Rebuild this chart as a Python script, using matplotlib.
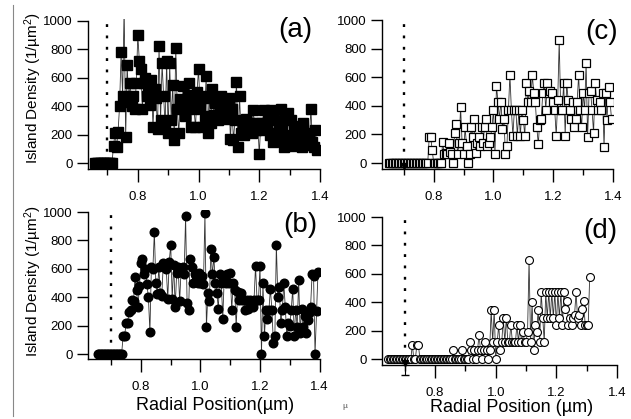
import numpy as np
import matplotlib
matplotlib.use("Agg")
import matplotlib.pyplot as plt
from matplotlib.lines import Line2D

plt.rcParams['font.family'] = ['Liberation Sans', 'DejaVu Sans']
plt.rcParams['mathtext.default'] = 'regular'

# ---------------- data ----------------
step = 0.005
cutoff = 0.70

a_x0 = 0.660
a_y = [0]*12 + [
    120, 210, 110, 220, 400, 780, 470, 1100, 180, 690, 430, 560, 400, 470, 380, 560,
    900, 720, 660, 380, 560, 600, 470, 540, 410, 580, 250, 520, 460, 240, 820, 300, 700, 470, 260, 720,
    210, 700, 300, 550, 160, 810, 380, 210, 450, 390, 540, 330, 400, 480, 560, 250, 430, 380, 250, 500,
    660, 400, 250, 470, 330, 610, 210, 460, 280, 520, 340, 420, 460, 300, 380, 470, 350, 420, 310, 400,
    460, 170, 380, 160, 300, 570, 110, 470, 210, 250, 200, 310, 230, 250, 280, 210, 370, 250, 230, 280,
    60, 280, 230, 370, 240, 280, 330, 200, 370, 150, 300, 210, 170, 280, 380, 230, 110, 310, 160, 350,
    200, 300, 120, 250, 180, 260, 140, 230, 110, 280, 170, 210, 130, 170, 380, 150, 110, 230, 90]

b_x0 = 0.655
b_y = [0]*17 + [
    125, 125, 215, 220, 295, 310, 380, 370, 540, 450, 330, 480,
    640, 670, 560, 600, 490, 400, 155, 610, 600, 860, 500, 420, 610, 430, 410, 640, 620, 600, 390, 650,
    770, 390, 630, 330, 570, 610, 370, 600, 610, 560, 970, 360, 310, 670, 610, 500, 560, 550, 500, 570,
    500, 550, 490, 990, 190, 430, 370, 740, 560, 680, 500, 430, 320, 560, 500, 250, 550, 500, 560, 500,
    570, 310, 500, 450, 190, 440, 380, 430, 380, 380, 310, 380, 320, 380, 360, 330, 380, 620, 380, 380,
    620, 0, 500, 130, 310, 250, 310, 460, 310, 80, 130, 770, 400, 470, 220, 310, 500, 330, 130, 220,
    200, 310, 460, 130, 310, 190, 520, 150, 320, 190, 270, 150, 240, 290, 330, 560, 550, 0, 300, 580]

c_x0 = 0.650
c_y = [0]*27 + [
    180, 180, 90, 0, 0, 0, 0, 0, 0, 150,
    60, 70, 60, 140, 80, 60, 0, 210, 270, 60,
    140, 390, 140, 60, 250, 120, 0, 60, 250, 180,
    310, 70, 140, 180, 120, 250, 140, 250, 310, 120,
    140, 180, 250, 370, 60, 540, 430, 310, 430, 240,
    310, 60, 120, 370, 615, 370, 190, 370, 370, 190,
    370, 190, 370, 300, 190, 560, 430, 500, 430, 615,
    490, 430, 250, 130, 300, 310, 490, 560, 370, 560,
    490, 500, 490, 430, 370, 190, 440, 860, 370, 370,
    560, 190, 560, 440, 370, 310, 430, 250, 310, 430,
    615, 370, 250, 490, 370, 700, 180, 490, 500, 370,
    210, 560, 440, 370, 430, 370, 490, 110, 490, 300,
    530, 430, 310]

d_x0 = 0.645
d_y = [0]*16 + [100, 0, 0, 100, 100] + [0]*22 + [
    60, 0, 0, 0, 0, 0, 60, 0, 0, 0,
    0, 120, 60, 0, 60, 0, 60, 170, 60, 0,
    60, 120, 60, 0, 60, 345, 120, 345, 0, 120,
    240, 60, 120, 290, 120, 290, 120, 120, 240, 120,
    120, 120, 240, 120, 240, 120, 190, 120, 120, 190,
    700, 120, 400, 60, 240, 190, 345, 120, 470, 290,
    120, 470, 290, 470, 290, 470, 290, 470, 240, 470,
    290, 470, 240, 470, 350, 410, 240, 290, 240, 290,
    310, 470, 290, 310, 240, 350, 410, 240, 240, 240, 580]

y_ticks = [0, 200, 400, 600, 800, 1000]
x_major = [0.8, 1.0, 1.2, 1.4]
x_minor = [0.7, 0.9, 1.1, 1.3]
x_ticklabels = ["0.8", "1.0", "1.2", "1.4"]

# ---------------- figure ----------------
W, H = 631, 419
fig = plt.figure(figsize=(W / 100, H / 100), dpi=100)

YTOP = 1015


def make_ax(px_x0, px_x1, xd0, xd1, px_y0, px_y1000, px_axis):
    s = (px_y0 - px_y1000) / 1000.0
    ybot = -(px_axis - px_y0) / s
    top_px = px_y0 - YTOP * s
    rect = [px_x0 / W, 1 - px_axis / H, (px_x1 - px_x0) / W, (px_axis - top_px) / H]
    ax = fig.add_axes(rect)
    ax.set_xlim(xd0, xd1)
    ax.set_ylim(ybot, YTOP)
    ax.patch.set_alpha(0)
    for side in ("top", "right"):
        ax.spines[side].set_visible(False)
    ax.spines["left"].set_bounds(ybot, 1000)
    ax.spines["bottom"].set_bounds(xd0, xd1)
    for side in ("left", "bottom"):
        ax.spines[side].set_linewidth(1.0)
    ax.set_yticks(y_ticks)
    ax.set_yticklabels([str(v) for v in y_ticks])
    ax.set_xticks(x_major)
    ax.set_xticklabels(x_ticklabels)
    ax.set_xticks(x_minor, minor=True)
    ax.tick_params(axis="y", direction="out", length=8, width=1.0, pad=3, labelsize=9.5)
    ax.tick_params(axis="x", which="major", direction="out", length=9.5, width=1.0, pad=6, labelsize=9.5)
    ax.tick_params(axis="x", which="minor", direction="out", length=4.5, width=1.0)
    ax.plot([cutoff, cutoff], [0, 1000], color="black", lw=1.7,
            linestyle=(0, (1.2, 3.6)), zorder=1)
    return ax


def xs(x0, y):
    return x0 + step * np.arange(len(y))


# (a) filled squares
axa = make_ax(88, 320, 0.636, 1.4, 163, 20.7, 169)
axa.plot(xs(a_x0, a_y), a_y, color="#333333", lw=0.6, marker="s", ms=7,
         mfc="black", mec="black", zorder=3)

# (b) filled circles
axb = make_ax(88, 319.5, 0.622, 1.4, 354, 212, 359)
axb.plot(xs(b_x0, b_y), b_y, color="#333333", lw=0.6, marker="o", ms=6.2,
         mfc="black", mec="black", zorder=3)

# (c) open squares
axc = make_ax(382, 613, 0.627, 1.4, 163, 20, 169)
axc.plot(xs(c_x0, c_y), c_y, color="#333333", lw=0.6, marker="s", ms=5.2,
         mfc="white", mec="black", mew=0.9, zorder=3)
axc.plot([cutoff], [-20], marker="v", ms=4, color="black", clip_on=False, zorder=4)

# (d) open circles
axd = make_ax(382, 617, 0.625, 1.4, 359, 217, 365)
axd.plot(xs(d_x0, d_y), d_y, color="#333333", lw=0.6, marker="o", ms=5.7,
         mfc="white", mec="black", mew=0.8, zorder=3)
axd.errorbar([cutoff], [-25], yerr=[[85], [0]], fmt="v", ms=4, color="black",
             capsize=3, elinewidth=0.8, clip_on=False, zorder=4)

# panel labels (pixel positions converted to figure fraction)
for lab, (px, py) in {"(a)": (295, 30), "(b)": (300, 225),
                      "(c)": (602, 32), "(d)": (600, 231)}.items():
    fig.text(px / W, 1 - py / H, lab, fontsize=20, ha="center", va="center")

# axis labels
ylab = "Island Density (1/µm$^{2}$)"
fig.text(33 / W, 1 - 88 / H, ylab, rotation=90,
         fontsize=11, ha="center", va="center")
fig.text(33 / W, 1 - 281 / H, ylab, rotation=90,
         fontsize=11, ha="center", va="center")
fig.text(215 / W, 1 - 405 / H, "Radial Position(µm)", fontsize=13,
         ha="center", va="center")
fig.text(512 / W, 1 - 407 / H, "Radial Position (µm)", fontsize=13,
         ha="center", va="center")
fig.text(345 / W, 1 - 406 / H, "µ", fontsize=6, color="#555555",
         ha="center", va="center")

# left frame line
fig.add_artist(Line2D([12.7 / W, 12.7 / W], [1 - 5 / H, 1 - 416 / H],
                      color="#888888", lw=0.8))

fig.savefig("out.png", dpi=100)
